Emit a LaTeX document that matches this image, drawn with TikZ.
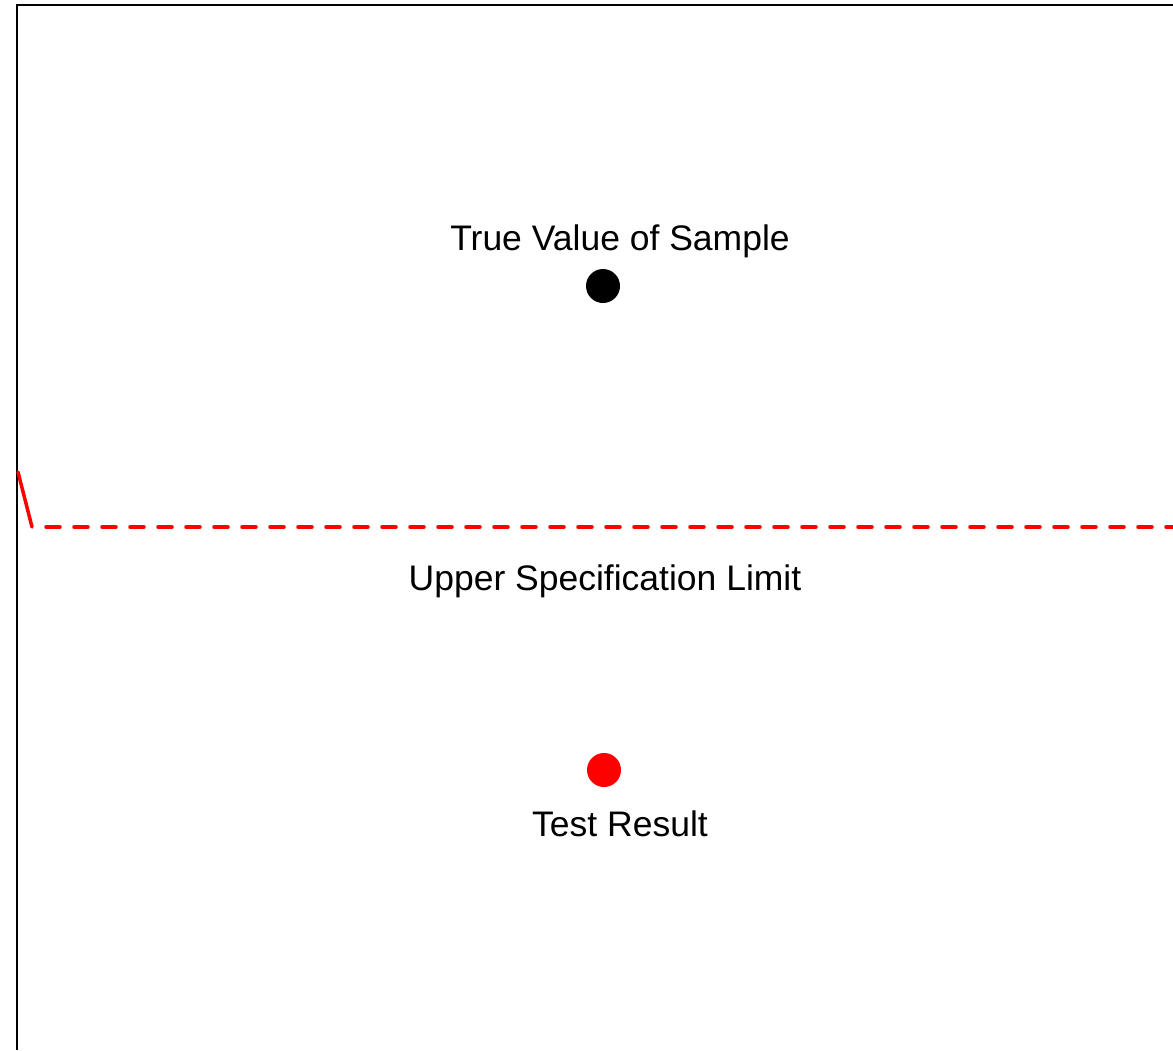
\documentclass[tikz,border=0pt]{standalone}
\usepackage{fontspec}
\setmainfont{Liberation Sans}
\usetikzlibrary{positioning}

\begin{document}
\begin{tikzpicture}[
x=1pt, y=-1pt,
node distance = 14pt and 14pt,
   dot/.style = {circle, inner sep=0pt, minimum size=34pt},
   lbl/.style = {font=\fontsize{35.5}{42}\selectfont, inner sep=0pt},
 limit/.style = {red, line width=3.5pt, line cap=round}
                    ]
\useasboundingbox (0,0) rectangle (1173,1050);
\draw[line width=2pt] (1173,5) -| (17,1050);

\node (true) [dot, fill=black] at (603,286) {};
\node (test) [dot, fill=red]   at (604,770) {};
\node (truelbl) [lbl, above=11pt of true, xshift=17pt] {True Value of Sample};
\node (testlbl) [lbl, below=23pt of test, xshift=16pt] {Test Result};

\coordinate (usl0) at (18,472);
\coordinate (usl1) at (32,527);
\coordinate (usl2) at (1180,527);
\node (usllbl) [lbl] at (605,581) {Upper Specification Limit};

\draw[limit] (usl0) -- (usl1);
\draw[limit, dash pattern=on 14pt off 14pt, dash phase=-14pt] (usl1) -- (usl2);
\end{tikzpicture}
\end{document}
